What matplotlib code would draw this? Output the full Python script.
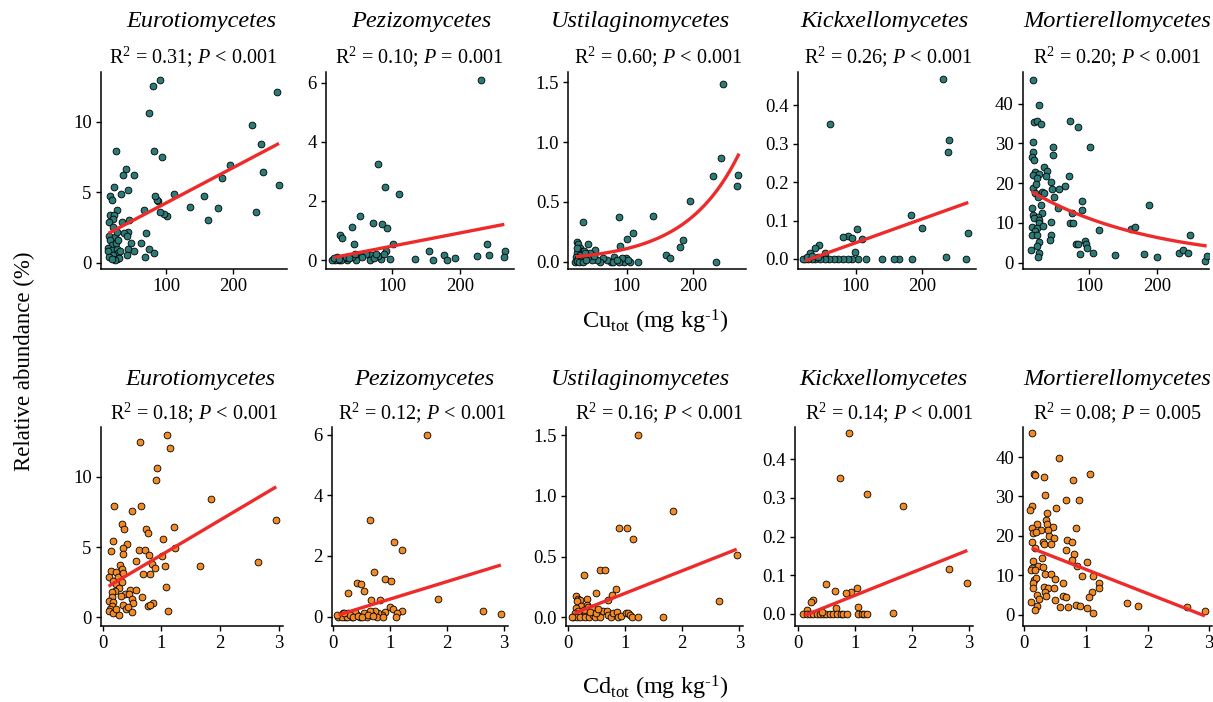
import matplotlib
matplotlib.use("Agg")
import matplotlib.pyplot as plt
import numpy as np

plt.rcParams['font.family'] = ['Liberation Serif', 'DejaVu Serif']
plt.rcParams['mathtext.fontset'] = 'custom'
plt.rcParams['mathtext.rm'] = 'Liberation Serif'
plt.rcParams['mathtext.it'] = 'Liberation Serif:italic'

classes = ["Eurotiomycetes", "Pezizomycetes", "Ustilaginomycetes",
           "Kickxellomycetes", "Mortierellomycetes"]
cu_stats = ["R$^2$ = 0.31; $\\mathit{P}$ < 0.001", "R$^2$ = 0.10; $\\mathit{P}$ = 0.001",
            "R$^2$ = 0.60; $\\mathit{P}$ < 0.001", "R$^2$ = 0.26; $\\mathit{P}$ < 0.001",
            "R$^2$ = 0.20; $\\mathit{P}$ < 0.001"]
cd_stats = ["R$^2$ = 0.18; $\\mathit{P}$ < 0.001", "R$^2$ = 0.12; $\\mathit{P}$ < 0.001",
            "R$^2$ = 0.16; $\\mathit{P}$ < 0.001", "R$^2$ = 0.14; $\\mathit{P}$ < 0.001",
            "R$^2$ = 0.08; $\\mathit{P}$ = 0.005"]

# ---- Cu panels (x = Cu_tot, y = relative abundance) ----
cu_eur_x = [90, 80, 73.5, 266, 227.5, 241, 244, 268, 233.5, 195, 183, 177.5, 156, 162.5, 135, 111,
            101, 97, 91, 87, 86, 83.5, 93.5, 81, 24.5, 67, 69.5, 62, 73.5, 82, 68.5, 52.5, 39.5, 35,
            43, 22.5, 32.5, 16, 18.5, 27, 16, 22.5, 21, 15, 33.5, 45, 43.5, 37, 41, 15, 23.5, 26, 21,
            47, 43.5, 52, 41, 16, 18.5, 13.5, 18.5, 13.5, 26, 28.5, 21, 15, 26, 30, 23.5, 18.5, 25,
            28.5, 31]
cu_eur_y = [12.95, 12.5, 10.6, 12.1, 9.76, 8.4, 6.4, 5.5, 3.6, 6.9, 6.0, 3.9, 4.75, 3.0, 3.97, 4.9,
            3.3, 3.45, 3.6, 4.35, 4.45, 4.7, 7.5, 7.9, 7.9, 3.7, 2.1, 1.4, 0.95, 0.7, 0.43, 6.2, 6.65,
            6.25, 5.15, 5.4, 4.87, 4.7, 4.45, 3.7, 3.4, 3.4, 3.1, 2.9, 2.85, 3.0, 2.2, 2.1, 1.9, 1.9,
            1.85, 2.2, 2.55, 1.4, 0.97, 0.83, 0.55, 1.6, 1.25, 1.06, 0.9, 0.85, 1.0, 0.66, 0.55, 0.38,
            0.26, 0.3, 0.19, 0.24, 1.4, 1.6, 0.85]

cu_pez_x = [231, 79, 89.5, 109.5, 52, 41, 72, 85.5, 92.5, 23.5, 26, 44, 101.5, 240, 90.5, 155, 267,
            176, 226, 243, 264.5, 193.5, 181.5, 161, 134, 97, 83, 79.5, 68, 61.5, 67, 52, 46, 40,
            33.5, 28.5, 21, 16, 11, 25, 18.5, 31, 36, 56, 73, 75.5, 88, 13.5, 22, 45]
cu_pez_y = [6.09, 3.24, 2.48, 2.22, 1.5, 1.13, 1.26, 1.21, 1.08, 0.85, 0.76, 0.55, 0.55, 0.56, 0.32,
            0.32, 0.32, 0.16, 0.15, 0.17, 0.1, 0.06, 0.0, 0.0, 0.03, 0.03, 0.03, 0.15, 0.17, 0.22, 0.0,
            0.17, 0.0, 0.11, 0.0, 0.06, 0.0, 0.02, 0.0, 0.0, 0.11, 0.11, 0.06, 0.09, 0.06, 0.22, 0.22,
            0.06, 0.05, 0.22]

cu_ust_x = [245.5, 243, 230.4, 269, 266.5, 196.5, 185, 180.5, 159, 165.5, 234.5, 140, 109, 100, 90.3,
            87.7, 116.5, 105, 99, 96, 92.5, 88.7, 81, 75.5, 70.5, 64.5, 59.5, 54.4, 46.8, 41.8, 51.9,
            41.8, 34.2, 24, 26.6, 29.1, 31.7, 35.2, 25, 29.1, 23, 26.6, 31.7, 36.7, 21.6, 25, 28.1,
            34.2, 38.2, 44.3, 50.4, 24, 36.7, 79.6, 84.6, 102.5]
cu_ust_y = [1.486, 0.866, 0.718, 0.726, 0.637, 0.508, 0.18, 0.125, 0.056, 0.034, 0.0, 0.385, 0.237,
            0.19, 0.134, 0.377, 0.0, 0.0, 0.028, 0.0, 0.028, 0.0, 0.042, 0.0, 0.014, 0.028, 0.0, 0.014,
            0.014, 0.042, 0.098, 0.148, 0.335, 0.168, 0.148, 0.112, 0.089, 0.092, 0.07, 0.056, 0.042,
            0.028, 0.014, 0.028, 0.0, 0.005, 0.0, 0.0, 0.014, 0.07, 0.047, 0.112, 0.07, 0.0, 0.014,
            0.014]

cu_kic_x = [231, 241, 238.5, 61, 182.8, 199.4, 269.8, 101.5, 109, 99.5, 88.4, 81, 94.5, 44, 38, 30.3,
            53, 236, 266.5, 185.3, 165.7, 157.6, 139, 115.4, 102.8, 94.8, 88.8, 81.2, 73.7, 67.7,
            60.2, 53.6, 46, 38.5, 33.5, 28.5, 23.5, 20, 26.5, 33.5, 43.5]
cu_kic_y = [0.467, 0.309, 0.279, 0.35, 0.114, 0.081, 0.067, 0.078, 0.052, 0.017, 0.06, 0.058, 0.055,
            0.036, 0.028, 0.015, 0.015, 0.004, 0, 0, 0, 0, 0, 0, 0, 0, 0, 0, 0, 0, 0, 0, 0, 0, 0, 0, 0,
            0, 0.006, 0.008, 0.006]

cu_mor_x = [17.2, 26.5, 19.6, 24, 28.9, 72, 84.3, 101.5, 17.2, 18.2, 15.7, 19.6, 47.5, 46.6, 34.3,
            37.7, 36.7, 20.6, 17.2, 27, 24, 70, 65, 44.6, 45.5, 55.3, 18.2, 22, 30.4, 33.8, 20.6, 25.5,
            49, 53.9, 15.7, 29.4, 89.2, 89.7, 188.2, 74.5, 31.3, 17.2, 25.5, 18.7, 26, 72, 77, 44.6,
            27, 15.7, 23, 32.8, 20.6, 115.2, 161.7, 168, 16.7, 24, 43.7, 42.2, 27, 24, 81.3, 83.7,
            93.5, 95, 97, 14.7, 27, 25.5, 86.8, 105.3, 138, 181.2, 199.3, 232, 238.4, 245.7, 249.2,
            270.5, 274]
cu_mor_y = [46.0, 39.7, 35.5, 35.7, 34.9, 35.7, 34.1, 29.1, 30.3, 27.8, 26.7, 25.9, 29.2, 27.1, 24.0,
            23.1, 21.7, 22.9, 22.1, 22.3, 21.3, 21.9, 19.2, 20.2, 18.5, 18.5, 18.9, 19.8, 17.9, 17.6,
            17.6, 16.6, 16.5, 13.7, 13.7, 14.4, 15.5, 13.3, 14.4, 12.6, 12.4, 12.0, 11.6, 11.2, 10.8,
            9.9, 9.9, 10.3, 9.9, 9.1, 8.8, 9.2, 8.0, 8.2, 8.4, 8.9, 7.0, 7.0, 7.0, 5.7, 5.1, 4.3, 4.7,
            4.7, 5.5, 4.7, 3.8, 3.2, 2.4, 1.3, 2.2, 2.5, 1.9, 2.1, 1.3, 2.4, 3.2, 2.4, 7.0, 0.5, 1.7]

# ---- Cd panels (x = Cd_tot, y = relative abundance) ----
cd_eur_x = [1.094, 0.633, 1.14, 0.934, 0.906, 1.846, 2.95, 2.65, 1.663, 0.198, 0.649, 0.495, 0.325,
            0.365, 0.74, 0.78, 1.22, 1.025, 0.17, 0.41, 0.143, 0.353, 0.353, 0.62, 0.723, 0.797, 1.008,
            1.225, 0.57, 0.296, 0.837, 0.894, 1.065, 0.809, 0.684, 0.143, 0.325, 0.222, 0.114, 0.268,
            0.353, 0.182, 0.228, 0.325, 1.082, 0.285, 0.211, 0.154, 0.467, 0.57, 0.382, 0.308, 0.45,
            0.154, 0.678, 0.114, 0.17, 0.495, 0.524, 0.85, 0.78, 0.809, 0.342, 0.154, 0.125, 0.399,
            0.439, 0.114, 0.495, 1.106, 0.182, 0.285, 0.228]
cd_eur_y = [12.98, 12.5, 12.07, 10.6, 9.79, 8.4, 6.95, 3.93, 3.64, 7.93, 7.93, 7.55, 6.67, 6.31, 6.26,
            6.02, 6.43, 5.55, 5.4, 5.19, 4.71, 4.95, 4.48, 4.76, 4.76, 4.45, 4.4, 4.95, 4.0, 3.74, 3.81,
            3.5, 3.64, 3.1, 3.05, 3.33, 3.45, 3.21, 2.86, 2.86, 3.14, 2.55, 2.38, 2.5, 2.14, 2.1, 1.86,
            1.79, 1.95, 1.95, 1.67, 1.55, 1.67, 1.43, 1.43, 1.19, 1.07, 1.31, 1.02, 1.02, 0.79, 0.9,
            0.9, 0.83, 0.6, 0.6, 0.71, 0.43, 0.4, 0.48, 0.29, 0.19, 0.6]

cd_pez_x = [1.652, 0.656, 1.078, 1.212, 0.731, 0.421, 0.491, 0.92, 1.019, 0.275, 0.55, 0.673, 0.832,
            1.84, 2.636, 2.952, 1.007, 1.066, 1.212, 1.124, 1.113, 0.92, 0.861, 0.803, 0.744, 0.773,
            0.685, 0.656, 0.598, 0.54, 0.48, 0.42, 0.392, 0.334, 0.275, 0.216, 0.175, 0.129, 0.1,
            0.158, 0.257, 0.304, 0.363, 0.45, 0.51, 0.627, 0.714, 0.89, 0.205, 0.082]
cd_pez_y = [6.0, 3.2, 2.45, 2.19, 1.48, 1.12, 1.07, 1.24, 1.18, 0.77, 0.86, 0.55, 0.55, 0.57, 0.18,
            0.08, 0.33, 0.24, 0.19, 0.13, 0.0, 0.16, 0.05, 0.11, 0.2, 0.0, 0.05, 0.2, 0.0, 0.11, 0.0,
            0.05, 0.16, 0.0, 0.11, 0.0, 0.11, 0.02, 0.0, 0.0, 0.0, 0.05, 0.0, 0.02, 0.0, 0.05, 0.02,
            0.0, 0.11, 0.05]

cd_ust_x = [1.217, 1.843, 0.895, 1.024, 1.141, 2.966, 2.65, 1.667, 0.556, 0.644, 0.281, 0.486, 0.837,
            0.761, 0.703, 0.322, 0.135, 0.176, 0.205, 0.158, 0.223, 0.322, 0.351, 0.41, 0.135, 0.176,
            0.234, 0.281, 0.117, 0.193, 0.263, 0.088, 0.146, 0.205, 0.293, 0.369, 0.427, 0.468, 0.556,
            0.615, 0.673, 0.703, 0.743, 0.79, 0.848, 0.878, 0.918, 1.012, 1.053, 1.082, 1.112, 1.229,
            0.38, 0.486, 0.527, 0.059]
cd_ust_y = [1.5, 0.873, 0.731, 0.734, 0.643, 0.512, 0.13, 0.0, 0.388, 0.385, 0.346, 0.2, 0.235, 0.186,
            0.144, 0.152, 0.172, 0.152, 0.144, 0.13, 0.094, 0.102, 0.083, 0.075, 0.075, 0.055, 0.047,
            0.061, 0.033, 0.025, 0.011, 0.0, 0.0, 0.0, 0.0, 0.0, 0.019, 0.0, 0.0, 0.055, 0.055, 0.019,
            0.0, 0.033, 0.042, 0.0, 0.011, 0.033, 0.039, 0.019, 0.0, 0.0, 0.042, 0.033, 0.066, 0.005]

cd_kic_x = [0.897, 0.733, 1.213, 1.846, 2.654, 2.959, 0.487, 0.645, 1.026, 0.926, 0.838, 1.055, 0.662,
            0.264, 0.223, 0.159, 1.671, 0.088, 0.147, 0.205, 0.264, 0.322, 0.381, 0.428, 0.487, 0.557,
            0.616, 0.686, 0.745, 0.792, 0.85, 1.055, 1.114, 1.161, 1.213, 0.41]
cd_kic_y = [0.467, 0.35, 0.309, 0.279, 0.115, 0.081, 0.078, 0.06, 0.066, 0.057, 0.053, 0.017, 0.015,
            0.036, 0.03, 0.01, 0.003, 0, 0, 0, 0, 0, 0, 0, 0, 0, 0, 0, 0, 0, 0, 0, 0, 0, 0, 0.006]

cd_mor_x = [0.12, 0.562, 0.156, 0.173, 0.325, 1.064, 0.794, 0.336, 0.676, 0.887, 0.12, 0.092, 0.514,
            0.362, 0.352, 0.362, 0.211, 0.12, 0.47, 0.837, 0.271, 0.38, 0.147, 0.19, 0.4, 0.476, 0.131,
            0.3, 0.326, 0.428, 0.687, 0.77, 0.174, 0.676, 0.806, 0.768, 0.282, 0.147, 1.022, 0.86,
            0.228, 0.3, 0.12, 0.104, 0.174, 0.336, 0.433, 0.93, 1.12, 0.163, 0.19, 0.136, 0.622, 0.497,
            1.216, 1.216, 0.147, 0.326, 0.39, 0.476, 0.336, 1.093, 1.054, 0.211, 0.244, 0.347, 0.633,
            0.676, 0.492, 0.104, 1.66, 1.84, 0.837, 0.903, 0.573, 0.716, 1.022, 0.2, 0.174, 1.12, 2.64,
            2.93]
cd_mor_y = [46.0, 39.7, 35.8, 35.4, 34.9, 35.8, 34.1, 30.3, 29.2, 29.1, 27.7, 26.7, 27.1, 25.8, 24.0,
            23.1, 23.1, 22.0, 22.2, 22.0, 21.6, 21.6, 20.8, 20.9, 20.1, 19.5, 18.6, 18.4, 18.0, 18.0,
            19.1, 18.5, 16.9, 16.4, 15.5, 14.0, 14.4, 13.6, 13.3, 12.5, 12.5, 12.1, 12.0, 11.3, 11.4,
            10.4, 10.4, 9.9, 9.9, 8.9, 9.3, 8.2, 8.2, 9.2, 8.2, 6.8, 6.8, 7.2, 6.8, 6.8, 5.7, 5.7, 4.5,
            5.1, 4.0, 4.7, 4.7, 4.5, 3.8, 3.2, 3.1, 2.3, 2.4, 2.3, 1.9, 2.1, 1.7, 2.3, 1.3, 0.4, 2.1,
            1.1]

# fitted curves: (kind, a, b, x_start, x_end)
# lin: y = a + b*x ; exp: y = a*exp(b*x)
cu_fits = [("lin", 1.74, 0.0250, 13.5, 268.5), ("lin", 0.030, 0.00444, 13.4, 265.7),
           ("exp", 0.0316, 0.01242, 23, 270), ("lin", -0.0195, 0.000617, 23.5, 269.8),
           ("exp", 19.56, -0.005634, 15.7, 273)]
cd_fits = [("lin", 1.962, 2.476, 0.1, 2.96), ("lin", -0.0027, 0.577, 0.1, 2.95),
           ("lin", 0.013, 0.185, 0.107, 2.955), ("lin", -0.0103, 0.0587, 0.107, 2.97),
           ("lin", 17.63, -6.1, 0.12, 2.93)]

cu_xs = [cu_eur_x, cu_pez_x, cu_ust_x, cu_kic_x, cu_mor_x]
cu_ys = [cu_eur_y, cu_pez_y, cu_ust_y, cu_kic_y, cu_mor_y]
cd_xs = [cd_eur_x, cd_pez_x, cd_ust_x, cd_kic_x, cd_mor_x]
cd_ys = [cd_eur_y, cd_pez_y, cd_ust_y, cd_kic_y, cd_mor_y]

yticks = [[0, 5, 10], [0, 2, 4, 6], [0, 0.5, 1.0, 1.5], [0, 0.1, 0.2, 0.3, 0.4], [0, 10, 20, 30, 40]]
yfmt = ["{:.0f}", "{:.0f}", "{:.1f}", "{:.1f}", "{:.0f}"]

# layout in pixels
W, H = 1213, 702
cu_left = [100.7, 326, 568.3, 797.7, 1022.7]
cu_width = [186, 188, 178, 178, 186]
cu_xlim = [(2, 280), (2.1, 280), (11.5, 281), (12.5, 281), (2.5, 276)]
cu_ylim = [(-0.45, 13.52), (-0.30, 6.36), (-0.061, 1.586), (-0.026, 0.486), (-1.6, 48.0)]
cd_left = [100.7, 331.7, 565.7, 795, 1023.3]
cd_width = [182, 176, 177, 178, 189]
cd_xlim = [(-0.034, 3.07), (-0.018, 3.07), (-0.046, 3.06), (-0.058, 3.07), (-0.016, 3.05)]
cd_ylim = [(-0.62, 13.55), (-0.31, 6.25), (-0.072, 1.566), (-0.031, 0.483), (-2.8, 47.6)]
title_x = [[201, 421, 640, 884, 1117], [200, 424, 640, 883, 1117]]
stat_x = [[193, 419.5, 658, 888, 1116.7], [194, 422, 659, 889, 1117]]

teal = "#2B7B78"
orange = "#F28A25"
red = "#EE2B2B"

fig = plt.figure(figsize=(W / 100, H / 100), dpi=100)

rows = [
    (cu_xs, cu_ys, cu_fits, cu_left, cu_width, cu_xlim, cu_ylim, 72, 269, teal, [100, 200], "{:.0f}", cu_stats, 22, 57),
    (cd_xs, cd_ys, cd_fits, cd_left, cd_width, cd_xlim, cd_ylim, 427, 626, orange, [0, 1, 2, 3], "{:.0f}", cd_stats, 380, 413),
]

for r, (xs, ys, fits, lefts, widths, xlims, ylims, top, bot, col, xt, xf, stats, ty, sy) in enumerate(rows):
    for i in range(5):
        ax = fig.add_axes([lefts[i] / W, 1 - bot / H, widths[i] / W, (bot - top) / H])
        ax.scatter(xs[i], ys[i], s=24, c=col, edgecolors="black", linewidths=0.6, zorder=2)
        kind, a, b, x0, x1 = fits[i]
        fx = np.linspace(x0, x1, 100)
        fy = a + b * fx if kind == "lin" else a * np.exp(b * fx)
        ax.plot(fx, fy, color=red, lw=2.4, zorder=3, solid_capstyle="butt")
        ax.set_xlim(xlims[i])
        ax.set_ylim(ylims[i])
        ax.set_xticks(xt)
        ax.set_xticklabels([xf.format(v) for v in xt])
        ax.set_yticks(yticks[i])
        ax.set_yticklabels([yfmt[i].format(v) for v in yticks[i]])
        for s in ["top", "right"]:
            ax.spines[s].set_visible(False)
        for s in ["left", "bottom"]:
            ax.spines[s].set_linewidth(1.1)
        ax.tick_params(labelsize=13.5, length=3.5, width=1.0, pad=3, colors="black")
        ax.set_facecolor("none")
        fig.text(title_x[r][i] / W, 1 - ty / H, classes[i], ha="center", va="center",
                 fontsize=17.5, style="italic")
        fig.text(stat_x[r][i] / W, 1 - sy / H, stats[i], ha="center", va="center", fontsize=14.5)

fig.text(655 / W, 1 - 322 / H, "Cu$_{\\mathrm{tot}}$ (mg kg$^{\\text{-1}}$)", ha="center",
         va="center", fontsize=17.5)
fig.text(655 / W, 1 - 688 / H, "Cd$_{\\mathrm{tot}}$ (mg kg$^{\\text{-1}}$)", ha="center",
         va="center", fontsize=17.5)
fig.text(24 / W, 1 - 361 / H, "Relative abundance (%)", rotation=90, ha="center", va="center",
         fontsize=16.5)

fig.savefig("out.png", dpi=100)
